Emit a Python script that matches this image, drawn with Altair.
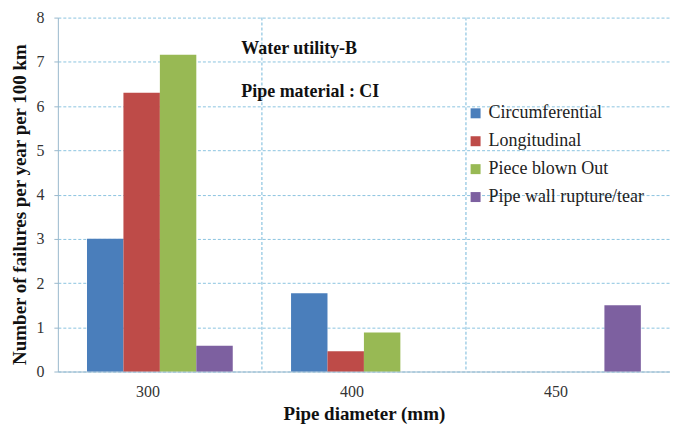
import altair as alt
import pandas as pd

categories = ["300", "400", "450"]
series = ["Circumferential", "Longitudinal", "Piece blown Out", "Pipe wall rupture/tear"]
circumferential = [3.0, 1.77, 0.0]
longitudinal = [6.3, 0.46, 0.0]
piece_blown_out = [7.16, 0.88, 0.0]
pipe_wall = [0.58, 0.0, 1.5]
colors = ["#4a7ebb", "#be4b48", "#98b954", "#7d60a0"]
y_ticks = [0, 1, 2, 3, 4, 5, 6, 7, 8]
boundaries = ["400", "450"]
notes = ["Water utility-B", "Pipe material : CI"]
note_y = [7.3, 6.32]

rows = []
for s, vals in zip(series, [circumferential, longitudinal, piece_blown_out, pipe_wall]):
    for c, v in zip(categories, vals):
        rows.append({"diameter": c, "type": s, "value": v})
df = pd.DataFrame(rows)

FONT = "Liberation Serif"
W, H = 614, 355
GRID = "#8cc4e0"

x_enc = alt.X("diameter:N", sort=categories,
              scale=alt.Scale(domain=categories, paddingInner=0, paddingOuter=0),
              axis=alt.Axis(title="Pipe diameter (mm)", labelAngle=0, tickSize=0,
                            labelPadding=20, labelFontSize=16, labelFont=FONT,
                            labelColor="#333333", titleFont=FONT, titleFontSize=19,
                            titleFontWeight="bold", titleColor="#111111",
                            titleY=42, titleBaseline="middle",
                            domainColor="#9ab8cc", grid=False))

bars = alt.Chart(df).mark_bar().encode(
    x=x_enc,
    xOffset=alt.XOffset("type:N", sort=series,
                        scale=alt.Scale(domain=series, paddingInner=0, paddingOuter=0.8)),
    y=alt.Y("value:Q", scale=alt.Scale(domain=[0, 8], nice=False),
            axis=alt.Axis(title="Number of failures per year per 100 km", values=y_ticks,
                          tickSize=4, tickColor="#9ab8cc", domainColor="#9ab8cc",
                          labelPadding=10, labelFontSize=16, labelFont=FONT,
                          labelColor="#333333", titleFont=FONT, titleFontSize=19,
                          titleFontWeight="bold", titleColor="#111111",
                          titleX=-38, titleY=187, titleBaseline="middle",
                          gridColor=GRID, gridDash=[3, 2], gridWidth=1)),
    color=alt.Color("type:N", sort=series,
                    scale=alt.Scale(domain=series, range=colors),
                    legend=alt.Legend(title=None, orient="none", legendX=410, legendY=87,
                                      symbolType="square", symbolSize=100,
                                      symbolStrokeWidth=0, labelFont=FONT,
                                      labelFontSize=18, labelColor="#222222",
                                      rowPadding=10, labelOffset=4)),
)

vgrid = alt.Chart(pd.DataFrame({"diameter": boundaries})).mark_rule(
    color=GRID, strokeDash=[3, 2], strokeWidth=1.2
).encode(
    x=alt.X("diameter:N", sort=categories, bandPosition=0),
)

notes_df = pd.DataFrame({"note": notes, "y": note_y})
text = alt.Chart(notes_df).mark_text(
    align="left", baseline="middle", font=FONT, fontSize=18, fontWeight="bold",
    color="#111111"
).encode(
    x=alt.value(184),
    y=alt.Y("y:Q"),
    text="note:N",
)

chart = alt.layer(vgrid, bars, text).properties(
    width=W, height=H,
    autosize=alt.AutoSizeParams(type="none"),
    padding={"left": 50, "top": 9, "right": 0, "bottom": 53},
).configure(font=FONT).configure_view(stroke=None).configure_axis(
    labelFont=FONT, titleFont=FONT
).configure_axisX(grid=False).configure_legend(labelFont=FONT)

chart.save("out.html", embed_options={"renderer": "svg", "actions": False})
